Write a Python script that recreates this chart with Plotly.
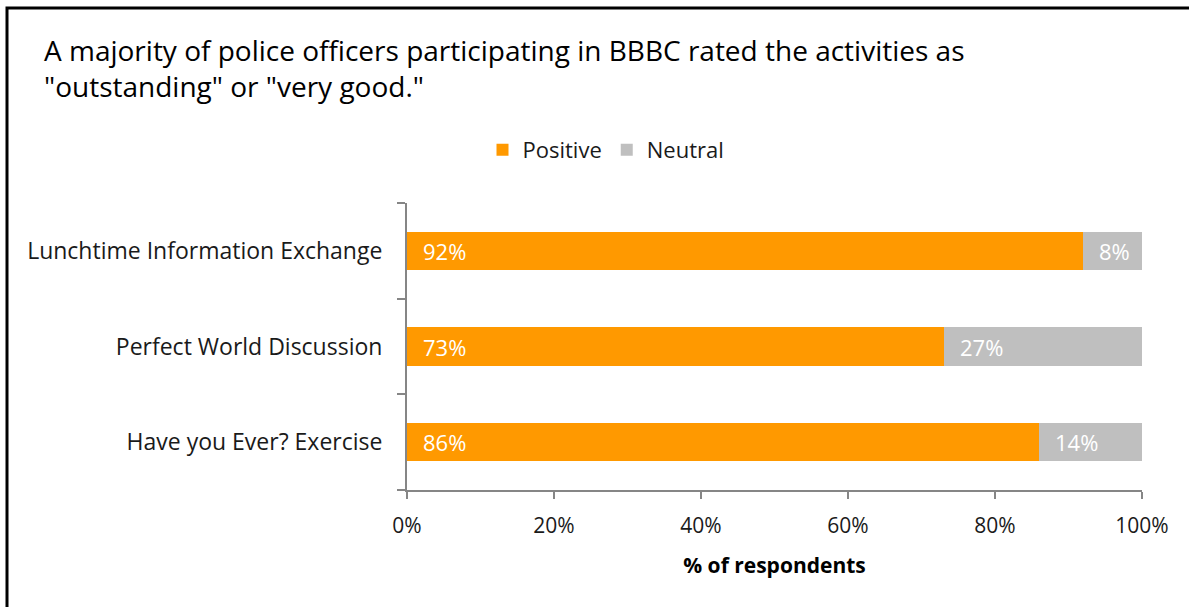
import plotly.graph_objects as go

# Activity ratings (percent of respondents), listed top to bottom
activities = ["Lunchtime Information Exchange", "Perfect World Discussion", "Have you Ever? Exercise"]
positive = [92, 73, 86]
neutral = [8, 27, 14]
x_ticks = [0, 20, 40, 60, 80, 100]
x_tick_labels = ["0%", "20%", "40%", "60%", "80%", "100%"]

title_text = ('A majority of police officers participating in BBBC rated the activities as<br>'
              '"outstanding" or "very good."')

FONT = "Open Sans"
W, H = 1189, 607
L, R, T, B = 407, 47, 203, 117
PW, PH = W - L - R, H - T - B


def px_x(p):
    return (p - L) / PW


def px_y(p):
    return (H - B - p) / PH


fig = go.Figure()
fig.add_trace(go.Bar(
    name="Positive", y=activities, x=positive, orientation="h",
    marker=dict(color="#FF9900", line=dict(width=0)),
))
fig.add_trace(go.Bar(
    name="Neutral", y=activities, x=neutral, orientation="h",
    marker=dict(color="#BFBFBF", line=dict(width=0)),
))

# Value labels, left-aligned inside each segment
annotations = []
for cat, p, n in zip(activities, positive, neutral):
    annotations.append(dict(x=0, y=cat, xref="x", yref="y", text=f"{p}%",
                            xanchor="left", yanchor="middle", xshift=14, showarrow=False,
                            font=dict(family=FONT, size=22, color="white")))
    annotations.append(dict(x=p, y=cat, xref="x", yref="y", text=f"{n}%",
                            xanchor="left", yanchor="middle", xshift=14, showarrow=False,
                            font=dict(family=FONT, size=22, color="white")))

annotations.append(dict(x=px_x(42), y=px_y(29), xref="paper", yref="paper",
                        text=title_text, xanchor="left", yanchor="top", align="left",
                        showarrow=False, font=dict(family=FONT, size=28, color="#000000")))

fig.update_layout(
    width=W, height=H,
    margin=dict(l=L, r=R, t=T, b=B, pad=0),
    barmode="stack", bargap=0.6,
    plot_bgcolor="white", paper_bgcolor="white",
    font=dict(family=FONT, size=21, color="#1a1a1a"),
    showlegend=True,
    legend=dict(orientation="h", x=px_x(606), xanchor="center", y=px_y(150), yanchor="middle",
                font=dict(family=FONT, size=22, color="#1a1a1a"), itemwidth=30,
                traceorder="normal"),
    annotations=annotations,
    shapes=[dict(type="rect", xref="paper", yref="paper",
                 x0=px_x(7), x1=px_x(1260), y0=px_y(8), y1=px_y(680),
                 line=dict(color="black", width=3), fillcolor="rgba(0,0,0,0)", layer="above")],
    xaxis=dict(range=[0, 100], tickvals=x_ticks, ticktext=x_tick_labels,
               showgrid=False, zeroline=False, showline=True, linecolor="#868686", linewidth=2,
               ticks="outside", ticklen=7, tickwidth=2, tickcolor="#868686",
               ticklabelstandoff=9,
               tickfont=dict(family=FONT, size=21, color="#1a1a1a"),
               title=dict(text="<b>% of respondents</b>", standoff=20,
                          font=dict(family=FONT, size=21, color="#000000"))),
    yaxis=dict(categoryorder="array", categoryarray=activities[::-1],
               showgrid=False, zeroline=False, showline=True, linecolor="#868686", linewidth=2,
               ticks="outside", ticklen=8, tickwidth=2, tickcolor="#868686",
               tickson="boundaries", ticklabelstandoff=18,
               tickfont=dict(family=FONT, size=23, color="#1a1a1a")),
)

fig.write_html("out.html")
